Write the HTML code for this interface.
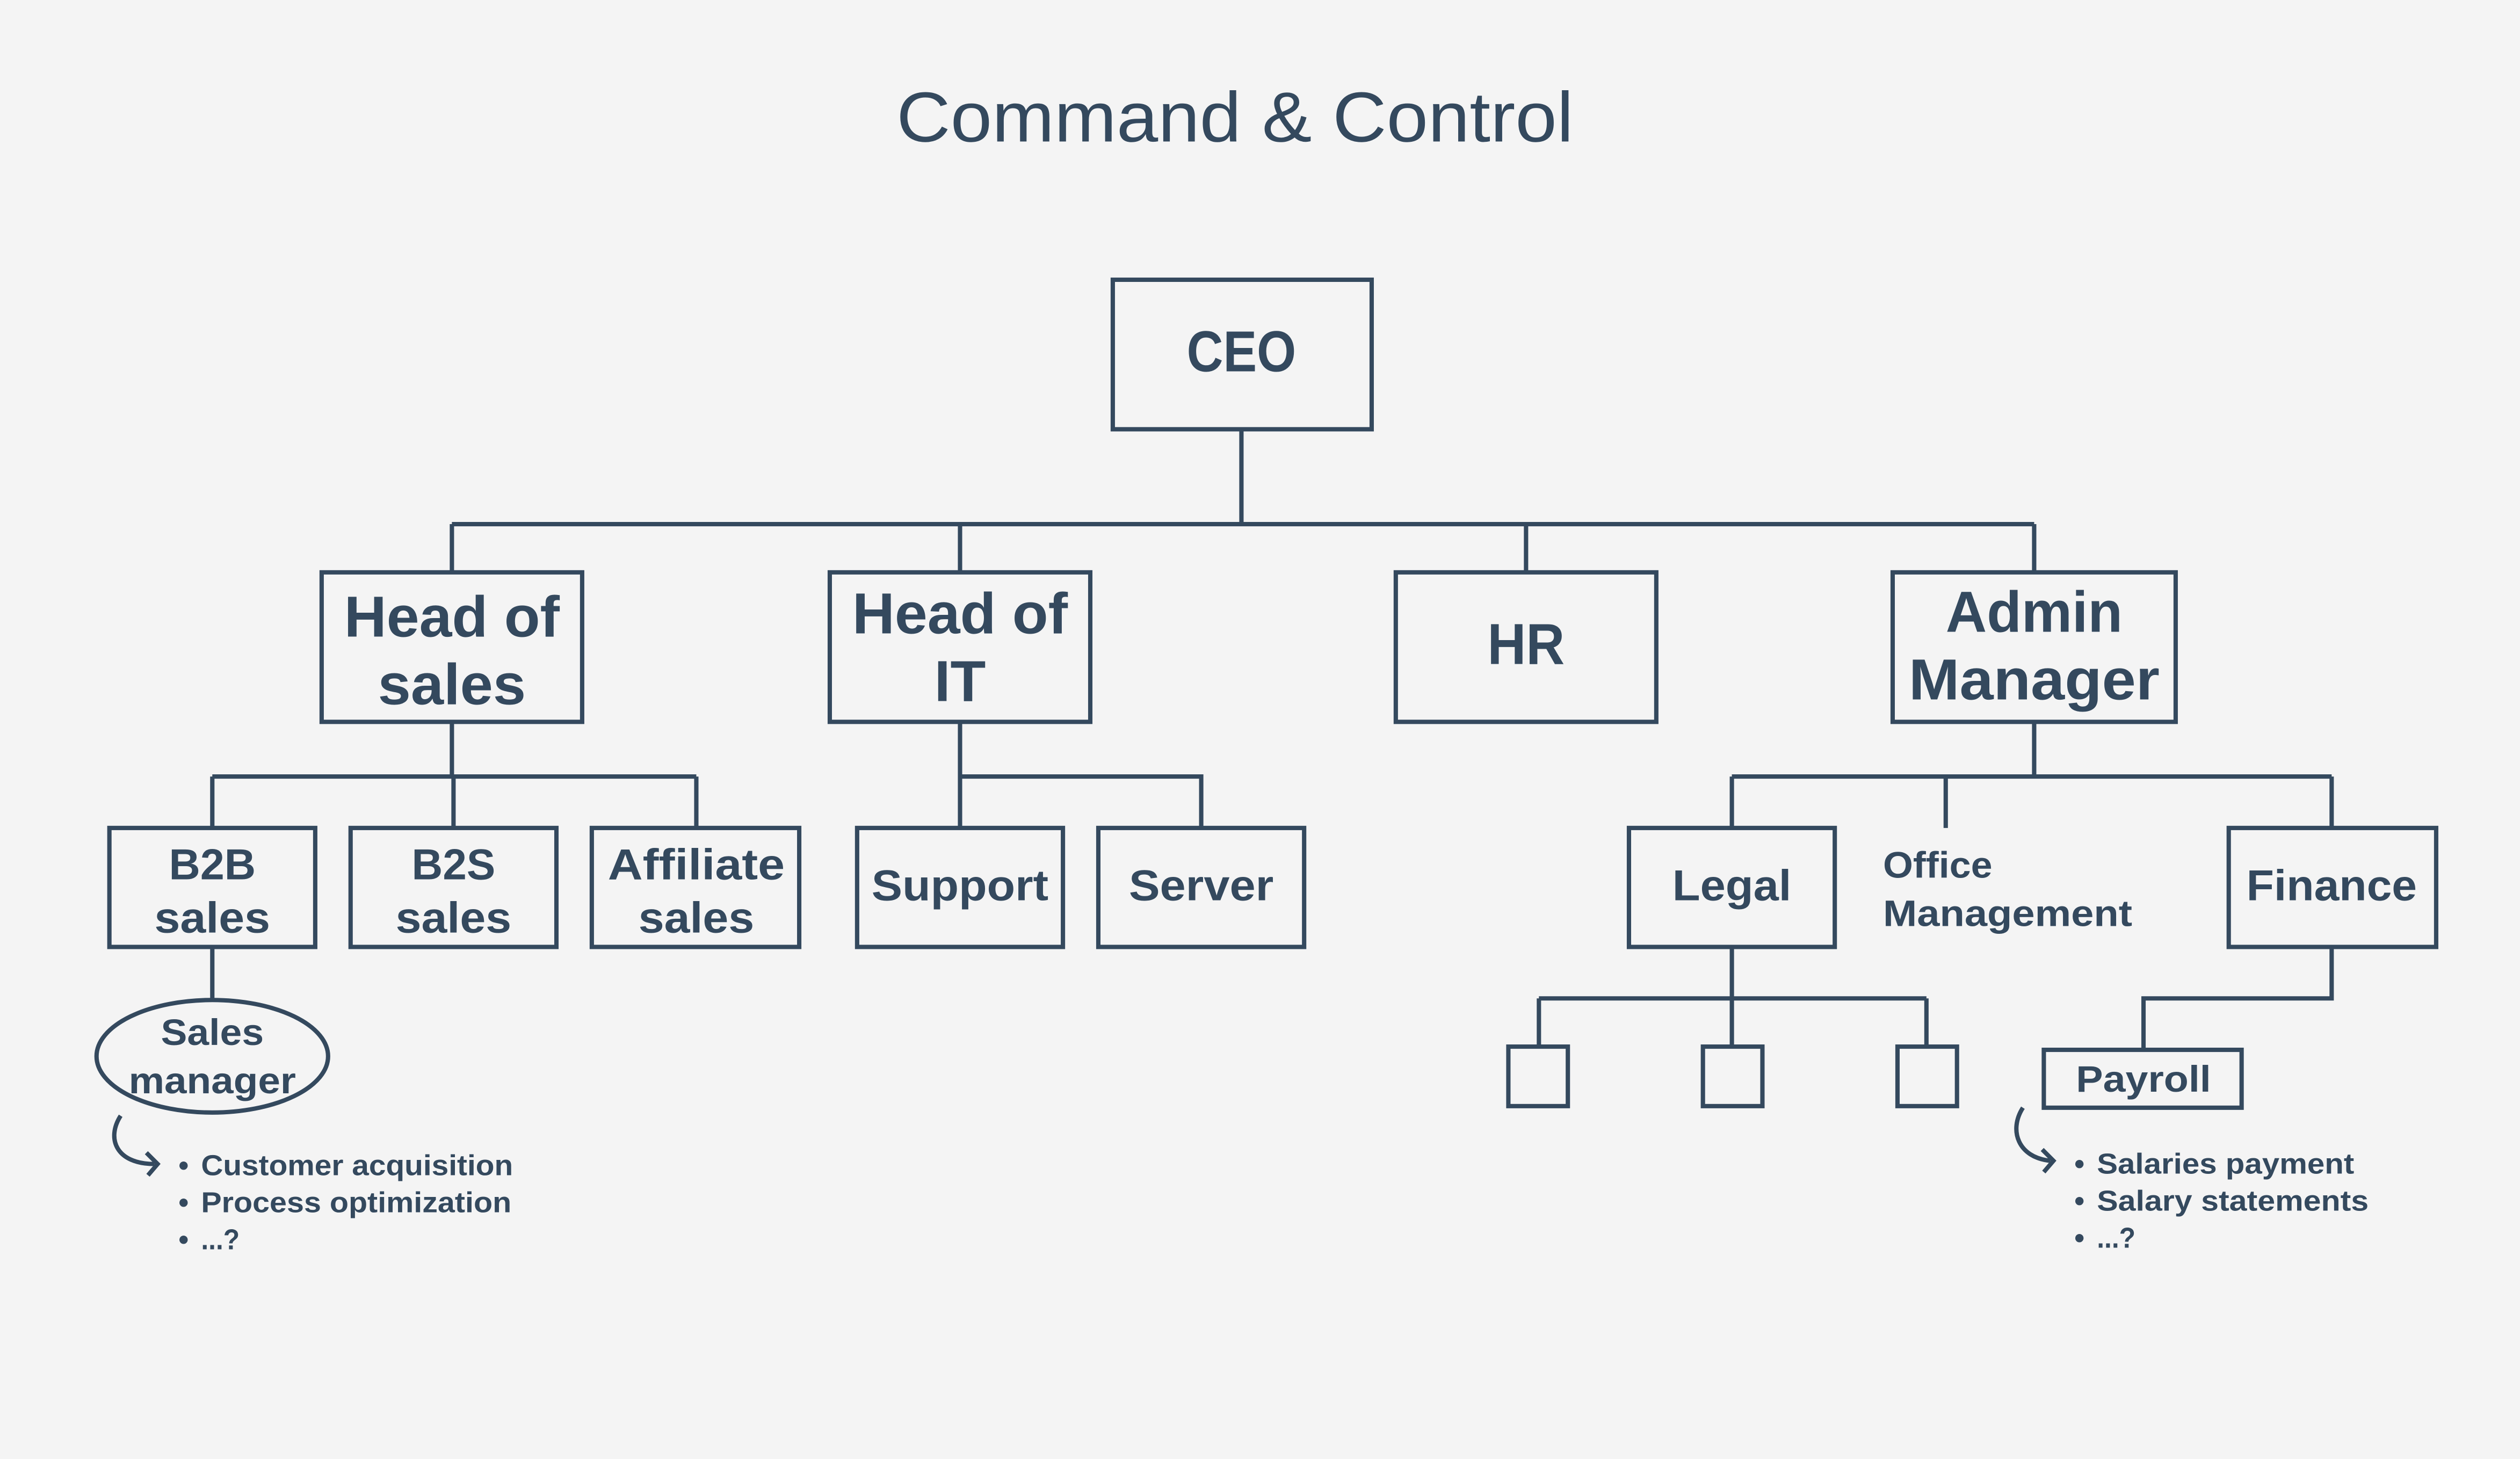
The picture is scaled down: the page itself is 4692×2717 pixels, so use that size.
<!DOCTYPE html>
<html><head><meta charset="utf-8"><style>
html,body{margin:0;padding:0;background:#f4f4f4;}
svg{display:block;}
text{font-family:"Liberation Sans",sans-serif;fill:#34495e;font-weight:bold;text-anchor:middle;}
</style></head><body>
<svg width="4692" height="2717" viewBox="0 0 1567.1 907.5" xmlns="http://www.w3.org/2000/svg">
<rect width="1567.1" height="907.5" fill="#f4f4f4"/>
<g fill="none" stroke="#34495e" stroke-width="2.7">
<rect x="692" y="174" width="161" height="93"/>
<path d="M772 267V326M281 326H1265M281 326V356M597 326V356M949 326V356M1265 326V356"/>
<rect x="200" y="356" width="162" height="93"/>
<rect x="516" y="356" width="162" height="93"/>
<rect x="868" y="356" width="162" height="93"/>
<rect x="1177" y="356" width="176" height="93"/>
<path d="M281 449V483M132 483H433M132 483V515M282 483V515M433 483V515"/>
<rect x="68" y="515" width="128" height="74"/>
<rect x="218" y="515" width="128" height="74"/>
<rect x="368" y="515" width="129" height="74"/>
<path d="M597 449V515M597 483H747V515"/>
<rect x="533" y="515" width="128" height="74"/>
<rect x="683" y="515" width="128" height="74"/>
<path d="M1265 449V483M1077 483H1450M1077 483V515M1210 483V515M1450 483V515"/>
<rect x="1013" y="515" width="128" height="74"/>
<rect x="1386" y="515" width="129" height="74"/>
<path d="M1077 589V621M957 621H1198M957 621V651M1077 621V651M1198 621V651"/>
<rect x="938" y="651" width="37" height="37"/>
<rect x="1059" y="651" width="37" height="37"/>
<rect x="1180" y="651" width="37" height="37"/>
<path d="M1450 589V621H1333V653"/>
<rect x="1271" y="653" width="123" height="36"/>
<path d="M132 589V622"/>
<ellipse cx="132" cy="657" rx="72" ry="35"/>
<path d="M75 694C66 708 72 724 96 724M91 717L98 724L92 731"/>
<path d="M1258 689C1249 703 1255 720 1275 722M1270 715L1277 722L1271 729"/>
</g>
<text x="768" y="88" font-size="44" font-weight="normal" style="font-weight:normal" textLength="421" lengthAdjust="spacingAndGlyphs">Command &amp; Control</text>
<text x="772" y="231" font-size="36" textLength="68" lengthAdjust="spacingAndGlyphs">CEO</text>
<g font-size="36">
<text x="281" y="396" textLength="134" lengthAdjust="spacingAndGlyphs">Head of</text>
<text x="281" y="438" textLength="92" lengthAdjust="spacingAndGlyphs">sales</text>
<text x="597" y="394" textLength="134" lengthAdjust="spacingAndGlyphs">Head of</text>
<text x="597" y="436" textLength="32" lengthAdjust="spacingAndGlyphs">IT</text>
<text x="949" y="413" textLength="48" lengthAdjust="spacingAndGlyphs">HR</text>
<text x="1265" y="393" textLength="110" lengthAdjust="spacingAndGlyphs">Admin</text>
<text x="1265" y="435" textLength="156" lengthAdjust="spacingAndGlyphs">Manager</text>
</g>
<g font-size="27">
<text x="132" y="547" textLength="54" lengthAdjust="spacingAndGlyphs">B2B</text>
<text x="132" y="580" textLength="72" lengthAdjust="spacingAndGlyphs">sales</text>
<text x="282" y="547" textLength="52" lengthAdjust="spacingAndGlyphs">B2S</text>
<text x="282" y="580" textLength="72" lengthAdjust="spacingAndGlyphs">sales</text>
<text x="433" y="547" textLength="110" lengthAdjust="spacingAndGlyphs">Affiliate</text>
<text x="433" y="580" textLength="72" lengthAdjust="spacingAndGlyphs">sales</text>
<text x="597" y="560" textLength="110" lengthAdjust="spacingAndGlyphs">Support</text>
<text x="747" y="560" textLength="90" lengthAdjust="spacingAndGlyphs">Server</text>
<text x="1077" y="560" textLength="74" lengthAdjust="spacingAndGlyphs">Legal</text>
<text x="1450" y="560" textLength="106" lengthAdjust="spacingAndGlyphs">Finance</text>
</g>
<g font-size="23" style="text-anchor:start">
<text x="1171" y="546" style="text-anchor:start" textLength="68" lengthAdjust="spacingAndGlyphs">Office</text>
<text x="1171" y="576" style="text-anchor:start" textLength="155" lengthAdjust="spacingAndGlyphs">Management</text>
</g>
<g font-size="23">
<text x="1333" y="679" textLength="84" lengthAdjust="spacingAndGlyphs">Payroll</text>
<text x="132" y="650" textLength="64" lengthAdjust="spacingAndGlyphs">Sales</text>
<text x="132" y="680" textLength="104" lengthAdjust="spacingAndGlyphs">manager</text>
</g>
<g font-size="18">
<text x="111" y="731" style="text-anchor:start">•</text>
<text x="111" y="754" style="text-anchor:start">•</text>
<text x="111" y="777" style="text-anchor:start">•</text>
<text x="125" y="731" style="text-anchor:start" textLength="194" lengthAdjust="spacingAndGlyphs">Customer acquisition</text>
<text x="125" y="754" style="text-anchor:start" textLength="193" lengthAdjust="spacingAndGlyphs">Process optimization</text>
<text x="125" y="777" style="text-anchor:start" textLength="24" lengthAdjust="spacingAndGlyphs">...?</text>
<text x="1290" y="730" style="text-anchor:start">•</text>
<text x="1290" y="753" style="text-anchor:start">•</text>
<text x="1290" y="776" style="text-anchor:start">•</text>
<text x="1304" y="730" style="text-anchor:start" textLength="160" lengthAdjust="spacingAndGlyphs">Salaries payment</text>
<text x="1304" y="753" style="text-anchor:start" textLength="169" lengthAdjust="spacingAndGlyphs">Salary statements</text>
<text x="1304" y="776" style="text-anchor:start" textLength="24" lengthAdjust="spacingAndGlyphs">...?</text>
</g>
</svg>
</body></html>
